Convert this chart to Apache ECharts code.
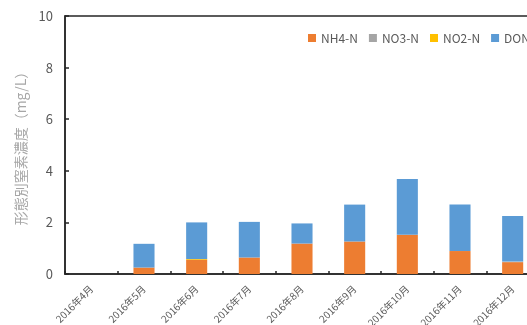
<!DOCTYPE html>
<html>
<head>
<meta charset="utf-8">
<script src="https://cdn.jsdelivr.net/npm/echarts@6/dist/echarts.min.js"></script>
<style>
  html, body { margin: 0; padding: 0; background: #fff; }
  #chart { width: 527px; height: 325px; }
</style>
</head>
<body>
<div id="chart"></div>
<script>
// Monthly nitrogen species concentrations (mg/L)
const months = ['2016年4月', '2016年5月', '2016年6月', '2016年7月', '2016年8月', '2016年9月', '2016年10月', '2016年11月', '2016年12月'];
const nh4 = [0, 0.25, 0.55, 0.64, 1.18, 1.26, 1.52, 0.89, 0.46];
const no3 = [0, 0, 0, 0, 0, 0, 0, 0, 0.02];
const no2 = [0, 0, 0.03, 0, 0, 0, 0, 0, 0];
const don = [0, 0.92, 1.42, 1.38, 0.78, 1.43, 2.16, 1.80, 1.77];
const yTicks = [0, 2, 4, 6, 8, 10];

const colors = { nh4: '#ED7D31', no3: '#A5A5A5', no2: '#FFC000', don: '#5B9BD5' };
const font = '"Noto Sans CJK JP", "Noto Sans", sans-serif';

const chart = echarts.init(document.getElementById('chart'), null, { renderer: 'canvas' });

function bar(name, data, color) {
  return {
    name: name,
    type: 'bar',
    stack: 'n',
    data: data,
    barWidth: '40%',
    itemStyle: { color: color },
    emphasis: { disabled: true }
  };
}

chart.setOption({
  animation: false,
  textStyle: { fontFamily: font },
  legend: {
    left: 303,
    top: 27,
    width: 400,
    itemWidth: 8,
    itemHeight: 8,
    itemGap: 11,
    icon: 'rect',
    textStyle: { color: '#595959', fontSize: 12, fontFamily: font },
    data: ['NH4-N', 'NO3-N', 'NO2-N', 'DON']
  },
  grid: {
    left: 65,
    top: 16,
    bottom: 51,
    right: -12,
    outerBoundsMode: 'none',
    containLabel: false,
    show: true,
    borderColor: '#262626',
    borderWidth: 1.5,
    backgroundColor: 'transparent'
  },
  xAxis: {
    type: 'category',
    data: months,
    axisLine: { lineStyle: { color: '#262626', width: 1.5 } },
    axisTick: { show: true, inside: true, length: 3, lineStyle: { color: '#262626', width: 1.5 } },
    axisLabel: { rotate: 45, interval: 0, fontSize: 10, color: '#595959', margin: 13, fontFamily: font },
    splitLine: { show: false }
  },
  yAxis: {
    type: 'value',
    min: yTicks[0],
    max: yTicks[yTicks.length - 1],
    interval: 2,
    name: '形態別窒素濃度（mg/L）',
    nameLocation: 'middle',
    nameGap: 37,
    nameRotate: 90,
    nameTextStyle: { color: '#A6A6A6', fontSize: 14, fontFamily: font },
    axisLine: { show: true, lineStyle: { color: '#262626', width: 1.5 } },
    axisTick: { show: true, inside: true, length: 4, lineStyle: { color: '#262626', width: 1.5 } },
    axisLabel: { color: '#595959', fontSize: 13, margin: 12, fontFamily: font },
    splitLine: { show: false }
  },
  series: [
    bar('NH4-N', nh4, colors.nh4),
    bar('NO3-N', no3, colors.no3),
    bar('NO2-N', no2, colors.no2),
    bar('DON', don, colors.don)
  ]
});
</script>
</body>
</html>
